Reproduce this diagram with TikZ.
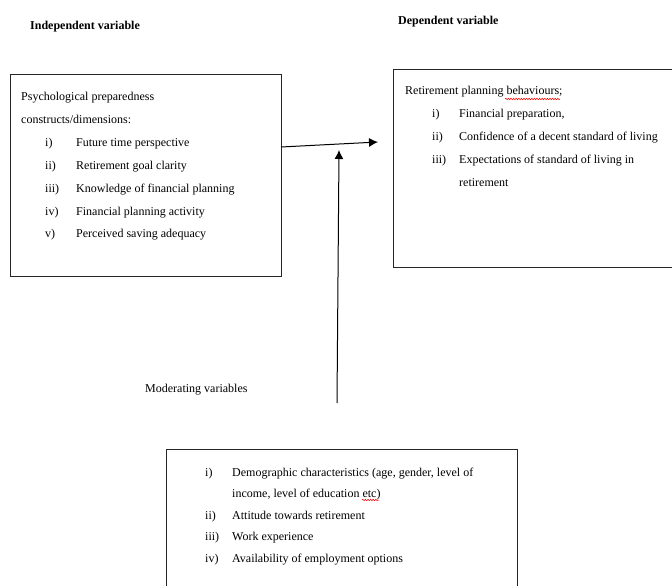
\documentclass[tikz,border=0pt]{standalone}
\usepackage{fontspec}
\setmainfont{Liberation Serif}
\usetikzlibrary{arrows.meta,decorations.pathmorphing}
\begin{document}
\begin{tikzpicture}[x=1pt, y=-1pt, >={Latex[length=9pt,width=9pt]},
  box/.style={draw=black!85, line width=.9pt, anchor=north west, inner sep=0pt},
  txt/.style={anchor=base west, inner sep=0pt, font=\fontsize{12}{23}\selectfont},
  kopf/.style={anchor=base west, inner sep=0pt, font=\fontsize{12}{14}\selectfont\bfseries},
  wellig/.style={red, line width=.5pt, decorate, decoration={snake, amplitude=.8pt, segment length=2.6pt}}]
\useasboundingbox (0,0) rectangle (672,586);
%Ueberschriften
\node[kopf] (hunab) at (30,30) {Independent variable};
\node[kopf] (habh) at (398,25) {Dependent variable};
\node[txt] (hmod) at (145,392) {Moderating variables};
%Kaesten
\node[box, minimum width=271pt, minimum height=202pt] (indep) at (10,74) {};
\node[box, minimum width=300pt, minimum height=198pt] (dep) at (393,69) {};
\node[box, minimum width=351pt, minimum height=200pt] (moder) at (166,449) {};
%Texte
\node[txt] (tindep) at (21,100) {\begin{tabular}[t]{@{}p{24pt}@{}p{31pt}@{}l@{}}
  \multicolumn{3}{@{}l}{Psychological preparedness}\\
  \multicolumn{3}{@{}l}{constructs/dimensions:}\\
  & i) & Future time perspective\\
  & ii) & Retirement goal clarity\\
  & iii) & Knowledge of financial planning\\
  & iv) & Financial planning activity\\
  & v) & Perceived saving adequacy
\end{tabular}};
\node[txt] (tdep) at (405,95) {\begin{tabular}[t]{@{}p{27pt}@{}p{27pt}@{}l@{}}
  \multicolumn{3}{@{}l}{Retirement planning behaviours;}\\
  & i) & Financial preparation,\\
  & ii) & Confidence of a decent standard of living\\
  & iii) & Expectations of standard of living in\\
  & & retirement
\end{tabular}};
\node[txt, font=\fontsize{12}{21.6}\selectfont] (tmoder) at (205,476) {\begin{tabular}[t]{@{}p{27pt}@{}l@{}}
  i) & Demographic characteristics (age, gender, level of\\
  & income, level of education etc)\\
  ii) & Attitude towards retirement\\
  iii) & Work experience\\
  iv) & Availability of employment options
\end{tabular}};
%Rechtschreibung
\draw[wellig] (505,99) -- (560,99);
\draw[wellig] (362,500) -- (379,500);
%Pfeile
\coordinate (pa) at (281,147);
\coordinate (pb) at (378,142);
\coordinate (pc) at (337,403);
\coordinate (pd) at (339,150);
\draw[line width=1pt, ->] (pa) -- (pb);
\draw[line width=1pt, ->] (pc) -- (pd);
\end{tikzpicture}
\end{document}
